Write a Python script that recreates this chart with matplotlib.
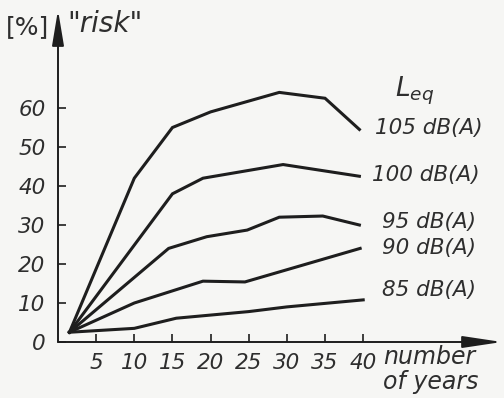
import matplotlib
matplotlib.use("Agg")
import matplotlib.pyplot as plt

plt.rcParams['font.family'] = ['DejaVu Sans']
plt.rcParams['mathtext.fontset'] = 'dejavusans'

# ---- data ----
years_105 = [1.5, 10, 15, 20, 29, 35, 39.5]
risk_105 = [2.5, 42, 55, 59, 64, 62.5, 54.5]

years_100 = [1.5, 15, 19, 22, 29.5, 39.5]
risk_100 = [2.5, 38, 42, 43, 45.5, 42.5]

years_95 = [1.5, 14.5, 19.5, 24.8, 29, 34.7, 39.5]
risk_95 = [2.5, 24, 27, 28.7, 32, 32.3, 30]

years_90 = [1.5, 10, 19, 24.5, 39.6]
risk_90 = [2.5, 10, 15.6, 15.4, 24]

years_85 = [1.5, 10, 15.5, 25, 30, 40]
risk_85 = [2.5, 3.5, 6.1, 7.8, 9, 10.8]

series_labels = ["105 dB(A)", "100 dB(A)", "95 dB(A)", "90 dB(A)", "85 dB(A)"]
x_ticks = [5, 10, 15, 20, 25, 30, 35, 40]
y_ticks = [0, 10, 20, 30, 40, 50, 60]

ink = '#1e1e1e'
txt = '#2e2e2e'
bg = '#f6f6f4'

W, H = 504, 398
fig = plt.figure(figsize=(W / 100, H / 100), dpi=100, facecolor=bg)

# axes: y axis at px x=58, x axis at px y=342
ax = fig.add_axes([58 / W, (H - 342) / H, (502 - 58) / W, (342 - 10) / H])
ax.set_facecolor(bg)
ax.set_xlim(0, (502 - 58) / 7.63)
ax.set_ylim(0, (342 - 10) / 3.9)
for s in ax.spines.values():
    s.set_visible(False)

series = [(years_105, risk_105), (years_100, risk_100), (years_95, risk_95),
          (years_90, risk_90), (years_85, risk_85)]
for xs, ys in series:
    ax.plot(xs, ys, color=ink, lw=2.2, solid_joinstyle='miter', clip_on=False)

# axis arrows
ax.annotate('', xy=(1, 0), xytext=(0, 0), xycoords='axes fraction',
            arrowprops=dict(arrowstyle='-|>,head_length=2.0,head_width=0.3',
                            lw=1.4, color=ink, shrinkA=0, shrinkB=0,
                            mutation_scale=12))
ax.annotate('', xy=(0, 1), xytext=(0, 0), xycoords='axes fraction',
            arrowprops=dict(arrowstyle='-|>,head_length=1.8,head_width=0.3',
                            lw=1.4, color=ink, shrinkA=0, shrinkB=0,
                            mutation_scale=12))

ax.set_xticks(x_ticks)
ax.set_xticklabels([str(v) for v in x_ticks])
ax.set_yticks(y_ticks)
ax.set_yticklabels([str(v) for v in y_ticks])
ax.tick_params(axis='both', direction='in', length=6, width=1.2, color=ink,
               labelsize=15.5, labelcolor=txt)
ax.tick_params(axis='x', pad=8)
ax.tick_params(axis='y', pad=9)
for lab in ax.get_xticklabels() + ax.get_yticklabels():
    lab.set_fontstyle('italic')

# legend-like labels at the right
label_pos = [(41.5, 54.9), (41.2, 42.8), (42.5, 30.8), (42.5, 24.1), (42.5, 13.3)]
for (lx, ly), lab in zip(label_pos, series_labels):
    ax.text(lx, ly, lab, fontsize=15.5, style='italic', color=txt,
            ha='left', va='center')
ax.text(44.2, 64.3, r'$L_{eq}$', fontsize=19, color=txt, ha='left', va='center')

# axis titles
ax.text(42.6, -3.9, 'number', fontsize=17, style='italic', color=txt,
        ha='left', va='center', clip_on=False)
ax.text(42.6, -10.3, 'of years', fontsize=17, style='italic', color=txt,
        ha='left', va='center', clip_on=False)
fig.text(28 / W, 1 - 27 / H, '[%]', fontsize=18, color=txt, ha='center', va='center')
fig.text(67 / W, 1 - 24 / H, '"risk"', fontsize=20, style='italic', color=txt,
         ha='left', va='center')

fig.savefig('out.png', dpi=100, facecolor=bg)
